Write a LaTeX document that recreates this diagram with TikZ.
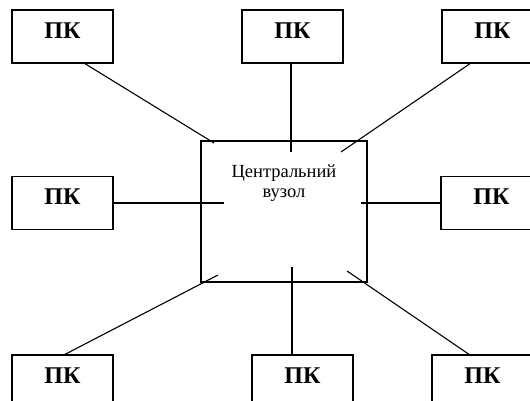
\documentclass[tikz,border=0pt]{standalone}
\usepackage{fontspec}
\setmainfont{Liberation Serif}
\usetikzlibrary{calc}
\begin{document}
\begin{tikzpicture}[x=1pt,y=-1pt,
  pcbox/.style={draw, line width=1.3pt, inner sep=0pt, minimum width=101pt,
    minimum height=53pt, font=\fontsize{24}{24}\selectfont\bfseries,
    text height=15pt, text depth=12pt},
  hubbox/.style={draw, line width=1.3pt, inner sep=0pt, minimum width=166pt,
    minimum height=141pt},
  hubtext/.style={align=center, inner sep=0pt, font=\fontsize{18.5}{20}\selectfont},
  link/.style={line width=1.1pt}]
\clip (0,0) rectangle (530,400);
\fill[white] (0,0) rectangle (530,400);

% central hub
\node[hubbox] (hub) at (284,211.5) {};
\node[hubtext, anchor=north] (hubtxt) at (284,165) {Центральний\\вузол};

% workstations
\node[pcbox] (pk1) at (62.5,36.5) {ПК};
\node[pcbox] (pk2) at (292.5,36.5) {ПК};
\node[pcbox] (pk3) at (492.5,36.5) {ПК};
\node[pcbox] (pk4) at (62.5,203) {ПК};
\node[pcbox] (pk5) at (491.5,203) {ПК};
\node[pcbox] (pk6) at (62.5,381.5) {ПК};
\node[pcbox] (pk7) at (302.5,381.5) {ПК};
\node[pcbox] (pk8) at (482.5,381.5) {ПК};

% cable ends inside the hub
\coordinate (c1) at (214,143);
\coordinate (c2) at (291,152);
\coordinate (c3) at (341,152);
\coordinate (c4) at (224,203);
\coordinate (c5) at (361,203);
\coordinate (c6) at (218,275);
\coordinate (c7) at (292,267);
\coordinate (c8) at (347,271);

% cables
\draw[link] ($(pk1.south)+(22.5,0)$) -- (c1);
\draw[link] ($(pk2.south)+(-1.5,0)$) -- (c2);
\draw[link] ($(pk3.south)+(-22.5,0)$) -- (c3);
\draw[link] (pk4.east) -- (c4);
\draw[link] (pk5.west) -- (c5);
\draw[link] ($(pk6.north)+(2.5,0)$) -- (c6);
\draw[link] ($(pk7.north)+(-10.5,0)$) -- (c7);
\draw[link] ($(pk8.north)+(-13.5,0)$) -- (c8);
\end{tikzpicture}
\end{document}
